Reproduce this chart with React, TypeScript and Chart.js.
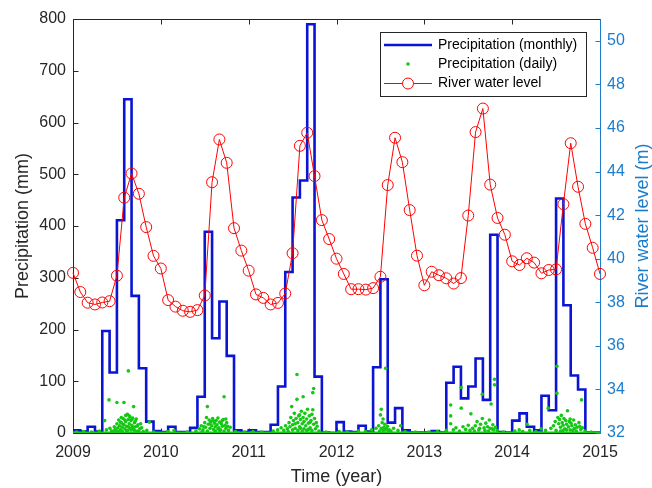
import React, { useEffect, useRef } from "react";
import { Chart, registerables } from "chart.js";

Chart.register(...registerables);

const FONT = "'Liberation Sans', Arial, Helvetica, sans-serif";
const INK = "#262626";
const LEVEL_BLUE = "#1b7ccc";

// x axis (years)
const yearTicks = [2009, 2010, 2011, 2012, 2013, 2014, 2015];
const firstYear = 2009;
const lastYear = 2015;

// left axis (mm) and right axis (m)
const precipRange = [0, 800];
const levelRange = [32, 51];

// monthly precipitation totals (mm), Jan..Dec
const monthly2009 = [5, 3, 12, 3, 197, 117, 411, 645, 265, 125, 22, 4];
const monthly2010 = [2, 12, 2, 2, 10, 70, 389, 183, 254, 149, 5, 2];
const monthly2011 = [5, 2, 2, 16, 90, 311, 455, 488, 790, 109, 1, 0];
const monthly2012 = [21, 3, 2, 14, 3, 127, 297, 20, 48, 5, 1, 1];
const monthly2013 = [1, 4, 1, 97, 128, 67, 90, 144, 64, 383, 2, 1];
const monthly2014 = [24, 38, 12, 5, 72, 44, 453, 247, 111, 84, 1, 1];

// river water level (m), sampled at the start of each month
const level2009 = [39.35, 38.47, 37.98, 37.9, 37.99, 38.05, 39.22, 42.8, 43.91, 42.98, 41.45, 40.13];
const level2010 = [39.55, 38.1, 37.8, 37.61, 37.56, 37.64, 38.31, 43.51, 45.47, 44.4, 41.4, 40.37];
const level2011 = [39.45, 38.36, 38.2, 37.9, 37.97, 38.4, 40.25, 45.18, 45.78, 43.79, 41.77, 40.9];
const level2012 = [40.0, 39.3, 38.6, 38.6, 38.58, 38.65, 39.17, 43.38, 45.55, 44.43, 42.23, 40.14];
const level2013 = [38.78, 39.4, 39.24, 39.1, 38.86, 39.11, 41.98, 45.81, 46.89, 43.4, 41.87, 41.1];
const level2014 = [39.88, 39.71, 40.02, 39.82, 39.33, 39.48, 39.51, 42.5, 45.3, 43.3, 41.6, 40.5];
const levelJan2015 = [39.3];

// daily precipitation on wet days: [decimal year, mm]
const daily2009 = [
  [2009.04, 2], [2009.12, 3], [2009.21, 2], [2009.3, 4], [2009.36, 24], [2009.38, 6], [2009.41, 64],
  [2009.42, 9], [2009.44, 4], [2009.47, 12], [2009.48, 7], [2009.5, 59], [2009.5, 18], [2009.51, 10],
  [2009.52, 25], [2009.53, 14], [2009.54, 6], [2009.55, 30], [2009.55, 20], [2009.56, 11], [2009.57, 28],
  [2009.58, 59], [2009.58, 16], [2009.59, 8], [2009.6, 34], [2009.6, 22], [2009.61, 13], [2009.62, 36],
  [2009.62, 5], [2009.63, 120], [2009.63, 26], [2009.64, 18], [2009.65, 31], [2009.65, 9], [2009.66, 24],
  [2009.67, 15], [2009.68, 29], [2009.69, 51], [2009.69, 7], [2009.7, 20], [2009.71, 12], [2009.72, 27],
  [2009.73, 4], [2009.74, 16], [2009.76, 8], [2009.78, 10], [2009.8, 3], [2009.84, 5], [2009.87, 21],
  [2009.92, 2], [2009.46, 3], [2009.49, 5], [2009.52, 3], [2009.54, 21], [2009.56, 4], [2009.57, 17],
  [2009.59, 25], [2009.61, 4], [2009.63, 12], [2009.64, 33], [2009.66, 6], [2009.67, 26], [2009.68, 11],
  [2009.7, 5], [2009.71, 23], [2009.73, 13], [2009.75, 3], [2009.77, 18],
];
const daily2010 = [
  [2010.08, 3], [2010.15, 5], [2010.3, 2], [2010.4, 4], [2010.44, 8], [2010.46, 14], [2010.48, 6],
  [2010.5, 20], [2010.51, 11], [2010.52, 30], [2010.53, 51], [2010.54, 17], [2010.55, 25], [2010.56, 9],
  [2010.57, 22], [2010.58, 14], [2010.59, 28], [2010.6, 7], [2010.61, 19], [2010.62, 12], [2010.63, 24],
  [2010.64, 16], [2010.65, 29], [2010.66, 10], [2010.67, 21], [2010.68, 6], [2010.69, 18], [2010.7, 13],
  [2010.71, 26], [2010.72, 70], [2010.73, 15], [2010.74, 9], [2010.75, 20], [2010.77, 5], [2010.79, 11],
  [2010.85, 3], [2010.95, 2], [2010.47, 3], [2010.49, 12], [2010.53, 4], [2010.56, 18], [2010.6, 23],
  [2010.62, 4], [2010.65, 8], [2010.67, 5], [2010.7, 24], [2010.72, 4], [2010.74, 27], [2010.76, 13],
];
const daily2011 = [
  [2011.05, 3], [2011.15, 2], [2011.28, 4], [2011.33, 6], [2011.37, 10], [2011.4, 5], [2011.42, 14],
  [2011.44, 8], [2011.46, 20], [2011.47, 12], [2011.48, 30], [2011.49, 51], [2011.5, 16], [2011.51, 24],
  [2011.52, 38], [2011.53, 9], [2011.54, 28], [2011.55, 113], [2011.55, 65], [2011.56, 20], [2011.57, 33],
  [2011.58, 35], [2011.58, 12], [2011.59, 26], [2011.6, 42], [2011.61, 18], [2011.62, 70], [2011.62, 30],
  [2011.63, 22], [2011.64, 38], [2011.65, 14], [2011.66, 27], [2011.67, 46], [2011.68, 19], [2011.69, 33],
  [2011.7, 10], [2011.71, 24], [2011.72, 36], [2011.73, 78], [2011.73, 45], [2011.74, 86], [2011.74, 17],
  [2011.75, 28], [2011.76, 8], [2011.78, 13], [2011.8, 4], [2011.88, 2], [2011.45, 3], [2011.5, 6],
  [2011.53, 18], [2011.56, 5], [2011.59, 9], [2011.61, 4], [2011.63, 8], [2011.66, 5], [2011.68, 7],
  [2011.7, 21], [2011.72, 5], [2011.77, 20],
];
const daily2012 = [
  [2012.03, 3], [2012.12, 2], [2012.25, 4], [2012.33, 3], [2012.4, 6], [2012.45, 9], [2012.48, 14],
  [2012.5, 35], [2012.51, 46], [2012.52, 20], [2012.53, 27], [2012.54, 11], [2012.55, 17], [2012.56, 125],
  [2012.57, 8], [2012.58, 13], [2012.6, 6], [2012.62, 4], [2012.65, 9], [2012.7, 5], [2012.73, 14],
  [2012.78, 3], [2012.9, 2], [2012.49, 4], [2012.51, 9], [2012.53, 5], [2012.55, 6], [2012.59, 3],
];
const daily2013 = [
  [2013.05, 2], [2013.15, 3], [2013.25, 5], [2013.3, 54], [2013.3, 33], [2013.3, 18], [2013.33, 6],
  [2013.36, 10], [2013.4, 4], [2013.42, 88], [2013.42, 48], [2013.44, 12], [2013.47, 7], [2013.5, 15],
  [2013.53, 37], [2013.55, 9], [2013.58, 14], [2013.6, 22], [2013.62, 6], [2013.64, 17], [2013.66, 75],
  [2013.66, 28], [2013.68, 10], [2013.7, 19], [2013.72, 12], [2013.74, 25], [2013.76, 56], [2013.77, 8],
  [2013.78, 16], [2013.8, 104], [2013.8, 93], [2013.81, 11], [2013.83, 5], [2013.9, 2], [2013.52, 5],
  [2013.57, 4], [2013.63, 9], [2013.69, 5], [2013.73, 4], [2013.75, 9], [2013.79, 6],
];
const daily2014 = [
  [2014.03, 4], [2014.08, 6], [2014.12, 3], [2014.17, 17], [2014.2, 5], [2014.27, 3], [2014.33, 8],
  [2014.38, 5], [2014.41, 48], [2014.44, 9], [2014.47, 14], [2014.49, 22], [2014.51, 129], [2014.51, 77],
  [2014.52, 30], [2014.53, 18], [2014.54, 26], [2014.55, 11], [2014.56, 34], [2014.57, 20], [2014.58, 15],
  [2014.59, 28], [2014.6, 8], [2014.61, 24], [2014.62, 17], [2014.63, 43], [2014.64, 12], [2014.65, 22],
  [2014.66, 6], [2014.67, 19], [2014.68, 14], [2014.7, 25], [2014.71, 9], [2014.72, 16], [2014.74, 11],
  [2014.76, 20], [2014.78, 7], [2014.79, 64], [2014.8, 10], [2014.83, 4], [2014.9, 2], [2014.5, 5],
  [2014.55, 4], [2014.58, 5], [2014.62, 6], [2014.66, 27], [2014.69, 5], [2014.73, 4], [2014.77, 13],
];
// dry days sit on 0 mm over the whole record
const dryDays = [[2009, 0], [2015, 0]];

const monthlySeries = [
  ...monthly2009, ...monthly2010, ...monthly2011, ...monthly2012, ...monthly2013, ...monthly2014,
];
const levelSeries = [
  ...level2009, ...level2010, ...level2011, ...level2012, ...level2013, ...level2014, ...levelJan2015,
];
const dailySeries = [...daily2009, ...daily2010, ...daily2011, ...daily2012, ...daily2013, ...daily2014];

const monthToYear = (i: number) => firstYear + i / 12;

// axes frame with inward tick marks, axis titles and the legend box
const decorPlugin = {
  id: "decor",
  beforeDatasetsDraw(chart: any) {
    const { ctx, chartArea: a, scales } = chart;
    const L = Math.round(a.left) + 0.5;
    const R = Math.round(a.right) + 0.5;
    const T = Math.round(a.top) + 0.5;
    const B = Math.round(a.bottom) + 0.5;
    const tick = 5;
    ctx.save();
    ctx.lineWidth = 1;
    ctx.strokeStyle = INK;
    ctx.beginPath();
    ctx.moveTo(L, B); ctx.lineTo(L, T); ctx.lineTo(R, T);
    ctx.moveTo(L, B); ctx.lineTo(R, B);
    for (const t of scales.x.ticks) {
      const px = Math.round(scales.x.getPixelForValue(t.value)) + 0.5;
      ctx.moveTo(px, B); ctx.lineTo(px, B - tick);
      ctx.moveTo(px, T); ctx.lineTo(px, T + tick);
    }
    for (const t of scales.y.ticks) {
      const py = Math.round(scales.y.getPixelForValue(t.value)) + 0.5;
      ctx.moveTo(L, py); ctx.lineTo(L + tick, py);
    }
    ctx.stroke();
    ctx.strokeStyle = LEVEL_BLUE;
    ctx.beginPath();
    ctx.moveTo(R, T); ctx.lineTo(R, B);
    for (const t of scales.y1.ticks) {
      const py = Math.round(scales.y1.getPixelForValue(t.value)) + 0.5;
      ctx.moveTo(R, py); ctx.lineTo(R - tick, py);
    }
    ctx.stroke();
    ctx.restore();
  },
  afterDraw(chart: any) {
    const { ctx, chartArea: a, data } = chart;
    const midY = (a.top + a.bottom) / 2;
    ctx.save();
    ctx.font = `18px ${FONT}`;
    ctx.textAlign = "center";
    ctx.textBaseline = "middle";
    ctx.fillStyle = INK;
    ctx.fillText("Time (year)", (a.left + a.right) / 2, 477);
    ctx.save();
    ctx.translate(23, midY);
    ctx.rotate(-Math.PI / 2);
    ctx.fillText("Precipitation (mm)", 0, 0);
    ctx.restore();
    ctx.save();
    ctx.translate(643, midY);
    ctx.rotate(-Math.PI / 2);
    ctx.fillStyle = LEVEL_BLUE;
    ctx.fillText("River water level (m)", 0, 0);
    ctx.restore();

    // legend
    const bx = 380.5, by = 32.5, bw = 206, bh = 64;
    ctx.fillStyle = "#ffffff";
    ctx.fillRect(bx, by, bw, bh);
    ctx.strokeStyle = INK;
    ctx.lineWidth = 1;
    ctx.strokeRect(bx, by, bw, bh);
    const rows = [45, 64, 83];
    const x0 = 384, x1 = 432, xm = 408;
    const [mDs, dDs, , lDs] = data.datasets;
    // monthly
    ctx.strokeStyle = mDs.borderColor;
    ctx.lineWidth = mDs.borderWidth;
    ctx.beginPath(); ctx.moveTo(x0, rows[0]); ctx.lineTo(x1, rows[0]); ctx.stroke();
    // daily
    ctx.fillStyle = dDs.pointBackgroundColor;
    ctx.beginPath(); ctx.arc(xm, rows[1], dDs.pointRadius, 0, Math.PI * 2); ctx.fill();
    // level
    ctx.strokeStyle = lDs.borderColor;
    ctx.lineWidth = 1;
    ctx.beginPath(); ctx.moveTo(x0, rows[2] + 0.5); ctx.lineTo(x1, rows[2] + 0.5); ctx.stroke();
    ctx.fillStyle = "#ffffff";
    ctx.beginPath(); ctx.arc(xm, rows[2] + 0.5, lDs.pointRadius, 0, Math.PI * 2); ctx.fill(); ctx.stroke();

    ctx.fillStyle = "#000000";
    ctx.font = `14px ${FONT}`;
    ctx.textAlign = "left";
    ctx.fillText(mDs.label, 438, rows[0]);
    ctx.fillText(dDs.label, 438, rows[1]);
    ctx.fillText(lDs.label, 438, rows[2]);
    ctx.restore();
  },
};

export default function App() {
  const canvasRef = useRef<HTMLCanvasElement | null>(null);

  useEffect(() => {
    const canvas = canvasRef.current;
    if (!canvas) return;

    const monthlyPoints = monthlySeries.map((v, i) => ({ x: monthToYear(i), y: v }));
    monthlyPoints.push({ x: lastYear, y: monthlySeries[monthlySeries.length - 1] });

    const chart = new Chart(canvas, {
      type: "line",
      data: {
        datasets: [
          {
            label: "Precipitation (monthly)",
            data: monthlyPoints,
            yAxisID: "y",
            stepped: "before",
            borderColor: "#0a14d2",
            borderWidth: 2.6,
            pointRadius: 0,
            fill: false,
            order: 3,
          },
          {
            label: "Precipitation (daily)",
            data: dailySeries.map(([x, y]) => ({ x, y })),
            yAxisID: "y",
            showLine: false,
            pointRadius: 1.8,
            pointBorderWidth: 0,
            pointBackgroundColor: "#14c814",
            pointBorderColor: "#14c814",
            order: 1,
          },
          {
            label: "dry days",
            data: dryDays.map(([x, y]) => ({ x, y })),
            yAxisID: "y",
            borderColor: "#14c814",
            borderWidth: 3,
            pointRadius: 0,
            order: 2,
          },
          {
            label: "River water level",
            data: levelSeries.map((v, i) => ({ x: monthToYear(i), y: v })),
            yAxisID: "y1",
            borderColor: "#ff0000",
            borderWidth: 1,
            pointRadius: 5.5,
            pointBorderWidth: 1,
            pointBorderColor: "#ff0000",
            pointBackgroundColor: "rgba(0,0,0,0)",
            clip: false as any,
            order: 0,
          },
        ],
      },
      options: {
        responsive: false,
        animation: false,
        events: [],
        layout: { padding: { top: 19, left: 0, right: 0, bottom: 0 } },
        plugins: { legend: { display: false }, tooltip: { enabled: false } },
        scales: {
          x: {
            type: "linear",
            min: firstYear,
            max: lastYear,
            afterBuildTicks: (s: any) => {
              s.ticks = yearTicks.map((v) => ({ value: v }));
            },
            afterFit: (s: any) => {
              s.height = 55;
            },
            grid: { display: false, drawTicks: false },
            border: { display: false },
            ticks: {
              color: INK,
              font: { family: FONT, size: 16 },
              padding: 10,
              maxRotation: 0,
              callback: (v: any) => String(v),
            },
          },
          y: {
            type: "linear",
            position: "left",
            min: precipRange[0],
            max: precipRange[1],
            afterFit: (s: any) => {
              s.width = 73;
            },
            grid: { display: false, drawTicks: false },
            border: { display: false },
            ticks: { stepSize: 100, color: INK, font: { family: FONT, size: 16 }, padding: 7 },
          },
          y1: {
            type: "linear",
            position: "right",
            min: levelRange[0],
            max: levelRange[1],
            afterBuildTicks: (s: any) => {
              s.ticks = s.ticks.filter((t: any) => t.value % 2 === 0);
            },
            afterFit: (s: any) => {
              s.width = 52;
            },
            grid: { display: false, drawTicks: false },
            border: { display: false },
            ticks: { stepSize: 2, color: LEVEL_BLUE, font: { family: FONT, size: 16 }, padding: 7 },
          },
        },
      },
      plugins: [decorPlugin],
    });

    return () => chart.destroy();
  }, []);

  return (
    <div style={{ position: "fixed", left: 0, top: 0, width: 652, height: 488, background: "#ffffff" }}>
      <canvas ref={canvasRef} width={652} height={488} />
    </div>
  );
}
